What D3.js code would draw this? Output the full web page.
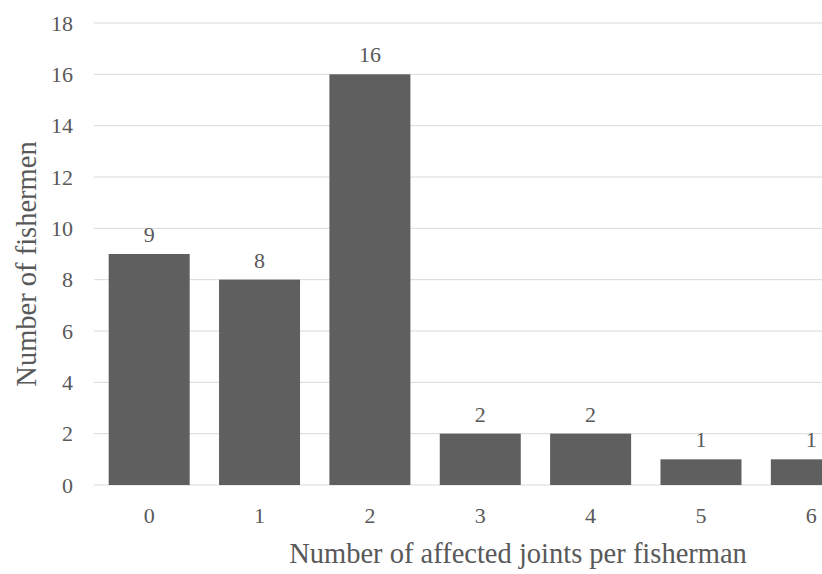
<!DOCTYPE html>
<html lang="en">
<head>
<meta charset="UTF-8">
<script src="https://d3js.org/d3.v7.min.js"></script>
<style>
  body { margin: 0; background: #fff; }
  svg text { font-family: 'Liberation Serif', 'DejaVu Serif', Tinos, serif; fill: #595959; }
</style>
</head>
<body>
<svg id="chart" width="822" height="574"></svg>
<script>
// data
const joints = ["0", "1", "2", "3", "4", "5", "6"];
const fishermen = [9, 8, 16, 2, 2, 1, 1];
const yTicks = [0, 2, 4, 6, 8, 10, 12, 14, 16, 18];

const svg = d3.select("#chart");
const plotLeft = 94, plotTop = 23, plotBottom = 485;
const step = 110.36;

const x = d3.scaleBand()
    .domain(joints)
    .range([plotLeft, plotLeft + step * joints.length])
    .paddingInner(0.266)
    .paddingOuter(0.133);

const y = d3.scaleLinear().domain([0, 18]).range([plotBottom, plotTop]);

// gridlines
svg.append("g")
    .selectAll("line")
    .data(yTicks)
    .enter().append("line")
    .attr("x1", plotLeft)
    .attr("x2", 822)
    .attr("y1", d => y(d))
    .attr("y2", d => y(d))
    .attr("stroke", "#d9d9d9")
    .attr("stroke-width", 1);

// y tick labels
svg.append("g")
    .selectAll("text")
    .data(yTicks)
    .enter().append("text")
    .attr("x", 73)
    .attr("y", d => y(d))
    .attr("dy", "0.35em")
    .attr("text-anchor", "end")
    .style("font-size", "22px")
    .text(d => d);

// bars
svg.append("g")
    .selectAll("rect")
    .data(fishermen)
    .enter().append("rect")
    .attr("x", (d, i) => x(joints[i]))
    .attr("y", d => y(d))
    .attr("width", x.bandwidth())
    .attr("height", d => plotBottom - y(d))
    .attr("fill", "#5f5f5f");

// value labels
svg.append("g")
    .selectAll("text")
    .data(fishermen)
    .enter().append("text")
    .attr("x", (d, i) => x(joints[i]) + x.bandwidth() / 2)
    .attr("y", d => y(d) - 12)
    .attr("text-anchor", "middle")
    .style("font-size", "22px")
    .text(d => d);

// x tick labels
svg.append("g")
    .selectAll("text")
    .data(joints)
    .enter().append("text")
    .attr("x", d => x(d) + x.bandwidth() / 2)
    .attr("y", 515)
    .attr("dy", "0.35em")
    .attr("text-anchor", "middle")
    .style("font-size", "22px")
    .text(d => d);

// axis titles
svg.append("text")
    .attr("x", 518)
    .attr("y", 553)
    .attr("dy", "0.35em")
    .attr("text-anchor", "middle")
    .style("font-size", "28.5px")
    .text("Number of affected joints per fisherman");

svg.append("text")
    .attr("transform", "translate(26,264) rotate(-90)")
    .attr("dy", "0.35em")
    .attr("text-anchor", "middle")
    .style("font-size", "28.5px")
    .text("Number of fishermen");
</script>
</body>
</html>
